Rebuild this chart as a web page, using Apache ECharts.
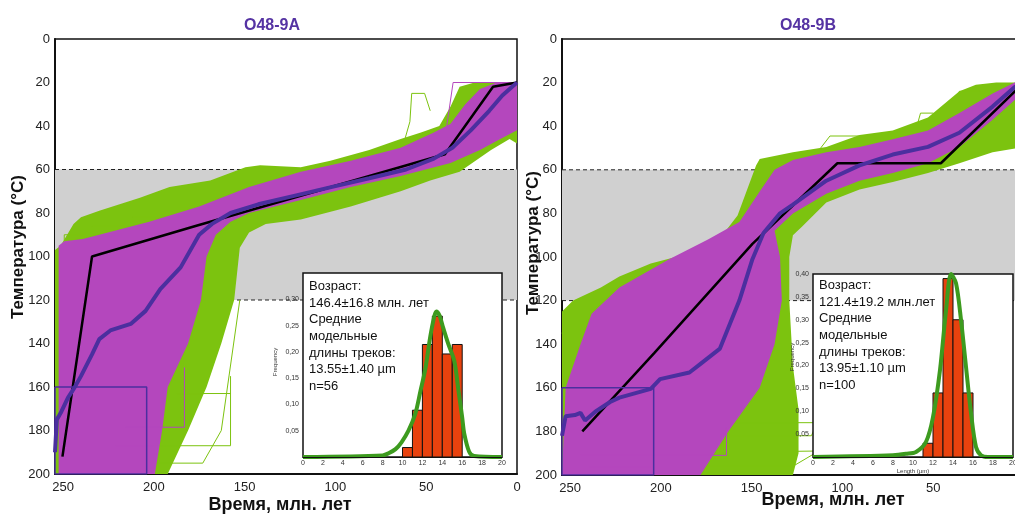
<!DOCTYPE html>
<html lang="ru">
<head>
<meta charset="utf-8">
<title>O48-9A / O48-9B</title>
<script src="https://cdn.jsdelivr.net/npm/echarts@6/dist/echarts.min.js"></script>
<style>html,body{margin:0;padding:0;background:#fff}#main{width:1015px;height:518px}</style>
</head>
<body>
<div id="main"></div>
<script>
// оси: время (млн. лет) и температура (°C)
var timeRange = [0, 254.5];
var tempRange = [0, 200];
var bandTemps = [60, 120];

// ---------- O48-9A ----------
var bestA = [[250.4,192],[234.1,100],[177.1,86],[39.7,53],[13.2,22],[0,20]];
var meanA = [[254.5,190],[253.5,175],[251.4,172],[247.4,165],[244.3,161],[240.2,155],[234.1,145],[230.1,138],[224,134],[212.8,131],[204.6,125],[196.5,115],[185.3,105],[175.1,90],[168,85],[157.8,80],[142.5,76],[122.2,72],[101.8,68],[81.4,64],[61.1,60],[45.8,55],[35.6,50],[25.5,42],[15.3,33],[8.1,26],[0,20]];
var greenA = [[254.5,200],[254.5,97],[251.4,95],[244.3,85],[240.2,82],[230.1,79],[207.7,73],[191.4,68],[169,65],[149.6,59],[141.5,58],[119.1,59],[102.8,56],[81.4,51],[64.1,46],[52.9,43],[42.8,40],[36.6,31],[31.6,22],[23.4,20],[0,20],
  [0,48],[4.1,46],[14.3,51],[31.6,61],[47.8,65],[64.1,70],[91.6,77],[119.1,83],[138.4,85],[147.6,89],[152.7,96],[155.8,120],[162.9,140],[171,160],[181.2,180],[192.4,200]];
var magentaA = [[252.5,200],[252.5,95],[249.4,93],[239.2,92],[230.1,90],[202.6,84],[175.1,77],[147.6,68],[119.1,61],[91.6,56],[64.1,50],[45.8,43],[36.6,39],[28.5,30],[20.4,23],[11.2,20],[0,20],
  [0,42],[9.2,46],[20.4,51],[36.6,57],[64.1,63],[91.6,68],[119.1,74],[147.6,80],[157.8,84],[165.9,90],[171,100],[174.1,120],[181.2,140],[192.4,160],[195.5,180],[199.5,200]];
var greenLinesA = [
  [[220.9,187],[157.8,187],[157.8,155]],
  [[187.3,163],[157.8,163]],
  [[208.7,195],[173.1,195],[162.9,180],[152.7,120]],
  [[63.1,50],[59,38],[58,25],[50.9,25],[47.8,33]],
  [[33.6,45],[28.5,44],[24.4,26],[18.3,24]],
  [[122.2,62],[109.9,59],[91.6,59],[86.5,56]],
  [[234.1,99],[234.1,86],[213.8,86],[211.7,82],[188.3,82]],
  [[249.4,100],[249.4,90],[239.2,90]]
];
var magentaLinesA = [
  [[215.8,178.5],[183.2,178.5],[183.2,151]],
  [[220.9,187],[200.5,187]],
  [[38.7,40],[35.2,20],[0,20]]
];
var binsA = [10, 11, 12, 13, 14, 15];
var freqA = [0.018, 0.089, 0.214, 0.268, 0.196, 0.214];
var fitA = [[0,0],[8,0.003],[8.6,0.007],[9.3,0.015],[9.9,0.028],[10.6,0.05],[11.3,0.083],[11.8,0.125],[12.3,0.168],[12.8,0.23],[13.2,0.268],[13.4,0.277],[13.7,0.27],[14.1,0.245],[14.6,0.215],[15.2,0.183],[15.6,0.13],[16.0,0.075],[16.2,0.045],[16.7,0.01],[17.2,0.002],[20,0]];
var textA = 'Возраст:\n146.4±16.8 млн. лет\nСредние\nмодельные\nдлины треков:\n13.55±1.40 µm\nn=56';

// ---------- O48-9B ----------
var bestB = [[243.3,180],[203.6,144],[149.6,94],[102.8,57],[45.8,57],[0,20]];
var meanB = [[254.5,182],[252.5,173],[247.4,172.5],[244.3,171.5],[241.8,175],[236.2,171],[228,166.5],[222.9,164.5],[205.6,160.5],[200.5,156],[184.3,153],[178.2,149],[167.5,142],[156.8,120],[149.6,101],[143.5,89],[134.4,80],[127.3,76],[108.9,65],[90.6,58],[72.3,53],[52.9,49.5],[35.6,43],[17.3,31],[5.1,22],[0,20]];
var greenB = [[254.5,200],[254.5,125],[248.4,120],[233.1,114],[222.9,109],[205.6,103],[178.2,97],[168,92],[157.8,81],[147.6,58],[145.6,55],[127.3,52],[108.9,49.5],[90.6,44],[72.3,42],[52.9,36],[35.6,24],[26.5,21],[15.3,20],[0,20],
  [0,49.5],[17.3,52],[35.6,57],[52.9,61.5],[72.3,65.6],[90.6,69],[108.9,75],[122.2,86],[127.3,90],[129.3,100],[129.3,120],[128.3,135],[127.3,150],[124.2,170],[124.2,190],[127.3,200]];
var magentaB = [[254.5,200],[252.5,160],[244.3,140],[238.2,126],[222.9,114],[195.5,101],[174.1,92],[156.8,84],[145.6,70],[137.4,60],[127.3,55.5],[108.9,52],[90.6,49.5],[72.3,46],[52.9,42],[35.6,34],[17.3,25],[5.1,20],[0,20],
  [0,22],[5.1,28],[17.3,37],[35.6,49.5],[52.9,57],[72.3,61.5],[90.6,65],[108.9,71],[127.3,80],[137.4,88],[134.4,100],[133.4,120],[137.4,140],[145.6,160],[162.9,180],[178.2,200]];
var greenLinesB = [
  [[201.6,196],[127.3,196],[104.9,185],[103.8,150]],
  [[203.6,190],[114,189],[101.8,165],[105.9,140]],
  [[193.4,182],[117.1,182],[109.9,168]],
  [[168,176],[105.9,176],[102.8,158]],
  [[112,50],[106.9,44.5],[84.5,44.5],[81.4,48]],
  [[59,40],[57,34],[49.9,34],[47.8,38]],
  [[37.7,30],[35.6,24],[24.4,24]],
  [[254.5,135],[249.4,126],[236.2,124],[232.1,118],[218.9,114]]
];
var magentaLinesB = [
  [[244.3,191],[163.9,191],[163.9,178],[152.7,160]],
  [[239.2,196.5],[205.6,196.5]]
];
var binsB = [11, 12, 13, 14, 15];
var freqB = [0.03, 0.14, 0.39, 0.30, 0.14];
var fitB = [[0,0],[8,0.004],[9.3,0.007],[10.3,0.011],[11.3,0.033],[12,0.087],[12.7,0.19],[13.3,0.32],[13.8,0.40],[14.3,0.38],[14.8,0.30],[15.3,0.197],[15.8,0.096],[16.3,0.022],[16.8,0.004],[17.5,0],[20,0]];
var textB = 'Возраст:\n121.4±19.2 млн.лет\nСредние\nмодельные\nдлины треков:\n13.95±1.10 µm\nn=100';

// окно ограничений (синяя рамка)
var boxCorners = [[254.5,160],[204,160],[204,200],[254.5,200],[254.5,160]];

var GREEN = '#7cc30f', MAGENTA = '#b447bd', BLUE = '#4b2f9f';
var FONT = 'Liberation Sans, Arial, sans-serif';

function poly(g, pts, color, z) {
    return {
        type: 'custom', xAxisIndex: g, yAxisIndex: g, z: z, silent: true, clip: true,
        data: [[pts[0][0], pts[0][1]]],
        renderItem: function (params, api) {
            return {type: 'polygon', shape: {points: pts.map(function (p) { return api.coord(p); })}, style: {fill: color}};
        }
    };
}
function path(g, pts, color, width, z, dash) {
    return {
        type: 'line', xAxisIndex: g, yAxisIndex: g, data: pts, symbol: 'none', z: z, silent: true,
        lineStyle: {color: color, width: width, type: dash || 'solid'}
    };
}
function bars(g, bins, freq) {
    return {
        type: 'custom', xAxisIndex: g, yAxisIndex: g, z: 11, silent: true,
        data: bins.map(function (b, i) { return [b, freq[i]]; }),
        renderItem: function (params, api) {
            var a = api.coord([api.value(0), api.value(1)]);
            var b = api.coord([api.value(0) + 1, 0]);
            return {type: 'rect', shape: {x: a[0], y: a[1], width: b[0] - a[0], height: b[1] - a[1]},
                style: {fill: '#e8420e', stroke: '#111', lineWidth: 1}};
        }
    };
}
function insetBg(g, ymax) {
    return {
        type: 'custom', xAxisIndex: g, yAxisIndex: g, z: 10, silent: true, data: [[0, 0]],
        renderItem: function (params, api) {
            var a = api.coord([0, ymax]), b = api.coord([20, 0]);
            return {type: 'rect', shape: {x: a[0], y: a[1], width: b[0] - a[0], height: b[1] - a[1]},
                style: {fill: '#fff', stroke: '#111', lineWidth: 1.5}};
        }
    };
}

function panel(g, green, magenta, gLines, mLines, best, mean) {
    var t1 = timeRange[1], s = [];
    s.push(poly(g, [[t1,bandTemps[0]],[0,bandTemps[0]],[0,bandTemps[1]],[t1,bandTemps[1]]], '#d0d0d0', 1));
    s.push(path(g, [[t1,bandTemps[0]],[0,bandTemps[0]]], '#222', 1, 1, [4, 3]));
    s.push(path(g, [[t1,bandTemps[1]],[0,bandTemps[1]]], '#222', 1, 1, [4, 3]));
    s.push(poly(g, green, GREEN, 2));
    gLines.forEach(function (l) { s.push(path(g, l, GREEN, 1, 2)); });
    s.push(poly(g, magenta, MAGENTA, 3));
    mLines.forEach(function (l) { s.push(path(g, l, MAGENTA, 1, 3)); });
    s.push(path(g, best, '#000', 2.5, 4));
    s.push(path(g, mean, BLUE, 4, 5));
    s.push(path(g, boxCorners, BLUE, 1.5, 5));
    return s;
}

var series = [].concat(
    panel(0, greenA, magentaA, greenLinesA, magentaLinesA, bestA, meanA),
    panel(1, greenB, magentaB, greenLinesB, magentaLinesB, bestB, meanB),
    [insetBg(2, 0.35), bars(2, binsA, freqA), path(2, fitA, '#3d9b1f', 4, 12),
     insetBg(3, 0.40), bars(3, binsB, freqB), path(3, fitB, '#3d9b1f', 4, 12)]
);
series.forEach(function (s) { if (s.type === 'line' && s.xAxisIndex >= 2) s.smooth = 0.3; });

function mainX(g) {
    return {type: 'value', gridIndex: g, min: timeRange[0], max: timeRange[1], interval: 50, inverse: true,
        axisLine: {onZero: false, lineStyle: {color: '#111', width: 2}}, axisTick: {show: false}, splitLine: {show: false},
        axisLabel: {fontFamily: FONT, fontSize: 13, color: '#222', margin: 7, showMaxLabel: false}};
}
function mainY(g) {
    return {type: 'value', gridIndex: g, min: tempRange[0], max: tempRange[1], interval: 20, inverse: true,
        axisLine: {onZero: false, lineStyle: {color: '#111', width: 2}}, axisTick: {show: false}, splitLine: {show: false},
        axisLabel: {fontFamily: FONT, fontSize: 13, color: '#222', margin: 5}};
}
function insetX(g) {
    return {type: 'value', gridIndex: g, min: 0, max: 20, interval: 2, z: 20,
        axisLine: {onZero: false, lineStyle: {color: '#111', width: 1}}, axisTick: {show: false}, splitLine: {show: false},
        axisLabel: {fontFamily: FONT, fontSize: 7, color: '#333', margin: 3}};
}
function insetY(g, max, showMax) {
    return {type: 'value', gridIndex: g, min: 0, max: max, interval: 0.05, z: 20,
        axisLine: {show: false}, axisTick: {show: false}, splitLine: {show: false},
        axisLabel: {fontFamily: FONT, fontSize: 7, color: '#333', margin: 4, showMaxLabel: showMax,
            formatter: function (v) { return v === 0 ? '' : v.toFixed(2).replace('.', ','); }}};
}

function txt(x, y, text, font, color, rot, align) {
    return {type: 'text', x: x, y: y, rotation: rot || 0, z: 100,
        style: {text: text, font: font, fill: color || '#111', textAlign: align || 'center', textVerticalAlign: 'middle'}};
}

var chart = echarts.init(document.getElementById('main'));
chart.setOption({
    backgroundColor: '#fff',
    animation: false,
    grid: [
        {left: 55, top: 39, width: 462, height: 435, show: true, borderColor: '#111', borderWidth: 1.5, outerBoundsMode: 'none'},
        {left: 562, top: 39, width: 462, height: 436, show: true, borderColor: '#111', borderWidth: 1.5, outerBoundsMode: 'none'},
        {left: 303, top: 273, width: 199, height: 184, outerBoundsMode: 'none'},
        {left: 813, top: 274, width: 200, height: 183, outerBoundsMode: 'none'}
    ],
    xAxis: [mainX(0), mainX(1), insetX(2), insetX(3)],
    yAxis: [mainY(0), mainY(1), insetY(2, 0.35, false), insetY(3, 0.40, true)],
    series: series,
    graphic: [
        txt(272, 26, 'O48-9A', 'bold 16px ' + FONT, '#5533a3'),
        txt(808, 26, 'O48-9B', 'bold 16px ' + FONT, '#5533a3'),
        txt(18, 247, 'Температура (°C)', 'bold 17px ' + FONT, '#111', Math.PI / 2),
        txt(533, 243, 'Температура (°C)', 'bold 17px ' + FONT, '#111', Math.PI / 2),
        txt(280, 505, 'Время, млн. лет', 'bold 18px ' + FONT),
        txt(833, 500, 'Время, млн. лет', 'bold 18px ' + FONT),
        {type: 'text', x: 309, y: 278, z: 100, style: {text: textA, font: '13px ' + FONT, fill: '#111', lineHeight: 16.7}},
        {type: 'text', x: 819, y: 277, z: 100, style: {text: textB, font: '13px ' + FONT, fill: '#111', lineHeight: 16.7}},
        txt(275, 362, 'Frequency', '6px ' + FONT, '#333', Math.PI / 2),
        txt(792, 357, 'Frequency', '6px ' + FONT, '#333', Math.PI / 2),
        txt(913, 471, 'Length (µm)', '6px ' + FONT, '#333')
    ]
});
</script>
</body>
</html>
